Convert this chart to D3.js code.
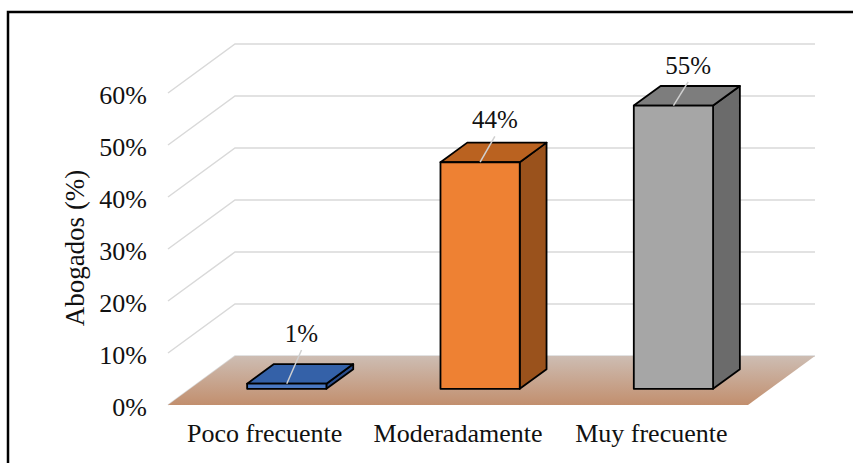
<!DOCTYPE html>
<html><head><meta charset="utf-8">
<script src="https://cdn.jsdelivr.net/npm/d3@7"></script>
<style>
html,body{margin:0;padding:0;background:#fff;}
svg text{font-family:'Liberation Serif','Times New Roman','Noto Serif','Nimbus Roman','Nimbus Roman No9 L','FreeSerif','DejaVu Serif',Times,serif !important;}
</style></head>
<body><svg id="c" width="853" height="463"></svg>
<script>
const categories = ["Poco frecuente", "Moderadamente", "Muy frecuente"];
const values = [1, 44, 55];
const valueLabels = ["1%", "44%", "55%"];
const tickValues = [0, 10, 20, 30, 40, 50, 60];
const frontColors = ["#4a78c2", "#ee8133", "#a6a6a6"];
const topColors = ["#3461a8", "#ba6220", "#7d7d7d"];
const sideColors = ["#2a4d8c", "#9a521c", "#6b6b6b"];

const svg = d3.select("#c");
const DX = 67, DY = 49;          // oblique depth offset
const D0 = 0.33, D1 = 0.73;      // bar depth span
const DL = 0.55;                 // label depth

const x = d3.scaleBand().domain(categories).range([168, 748]).padding(0);
const yGrid = d3.scaleLinear().domain([0, 60]).range([405, 93]);
const yBar = d3.scaleLinear().domain([0, 60]).range([405, 96]);
const yLabel = d3.scaleLinear().domain([0, 60]).range([338, 40]);
const P = (xf, yf, d) => [xf + d * DX, yf - d * DY];

// frame
svg.append("rect").attr("x", 8).attr("y", 12).attr("width", 900).attr("height", 500)
  .attr("fill", "none").attr("stroke", "#000").attr("stroke-width", 2.5);

// floor gradient
const defs = svg.append("defs");
const g = defs.append("linearGradient").attr("id", "floor").attr("x1", 0).attr("y1", 0).attr("x2", 0).attr("y2", 1);
g.append("stop").attr("offset", "0%").attr("stop-color", "#cdbdb3");
g.append("stop").attr("offset", "100%").attr("stop-color", "#c28f6e");

// gridlines: left wall diagonal + back wall
const [x0, x1] = x.range();
const grid = svg.append("g").attr("stroke", "#d9d9d9").attr("stroke-width", 1.5).attr("fill", "none");
tickValues.forEach(v => {
  const a = P(x0, yGrid(v), 0), b = P(x0, yGrid(v), 1), c = P(x1, yGrid(v), 1);
  grid.append("polyline").attr("points", [a, b, c].map(p => p.join(",")).join(" "));
});

// floor
const fl = [P(x0, yGrid(0), 0), P(x0, yGrid(0), 1), P(x1, yGrid(0), 1), P(x1, yGrid(0), 0)];
svg.append("polygon").attr("points", fl.map(p => p.join(",")).join(" ")).attr("fill", "url(#floor)");

// bars
const bw = x.bandwidth() * 0.41;
const bars = svg.append("g").attr("stroke", "#000").attr("stroke-width", 1.8).attr("stroke-linejoin", "round");
categories.forEach((cat, i) => {
  const cx = x(cat) + x.bandwidth() / 2;
  const xl = cx - bw / 2, xr = cx + bw / 2;
  const yb = yBar(0), yt = yBar(values[i]);
  const poly = pts => pts.map(p => p.join(",")).join(" ");
  bars.append("polygon").attr("fill", sideColors[i])
    .attr("points", poly([P(xr, yb, D0), P(xr, yb, D1), P(xr, yt, D1), P(xr, yt, D0)]));
  bars.append("polygon").attr("fill", topColors[i])
    .attr("points", poly([P(xl, yt, D0), P(xr, yt, D0), P(xr, yt, D1), P(xl, yt, D1)]));
  bars.append("polygon").attr("fill", frontColors[i])
    .attr("points", poly([P(xl, yb, D0), P(xr, yb, D0), P(xr, yt, D0), P(xl, yt, D0)]));
});

// data labels with leader lines
categories.forEach((cat, i) => {
  const cx = x(cat) + x.bandwidth() / 2;
  const lx = cx + DL * DX, ly = yLabel(values[i]);
  const ft = P(cx, yBar(values[i]), D0);
  svg.append("line").attr("x1", lx).attr("y1", ly + 17).attr("x2", ft[0]).attr("y2", ft[1])
    .attr("stroke", "#d0d0d0").attr("stroke-width", 1.5);
  svg.append("text").attr("x", lx).attr("y", ly).attr("dy", "0.35em")
    .attr("text-anchor", "middle").attr("font-size", 25).attr("fill", "#111").text(valueLabels[i]);
});

// y axis
const yAxis = svg.append("g").attr("transform", "translate(147,2)")
  .call(d3.axisLeft(yGrid).tickValues(tickValues).tickFormat(d => d + "%").tickSize(0).tickPadding(0));
yAxis.select(".domain").remove();
yAxis.attr("font-family", null);
yAxis.selectAll("text").attr("font-size", 26).attr("fill", "#111");

// x axis
const xAxis = svg.append("g").attr("transform", "translate(0,424)")
  .call(d3.axisBottom(x).tickSize(0).tickPadding(0));
xAxis.select(".domain").remove();
xAxis.attr("font-family", null);
xAxis.selectAll("text").attr("font-size", 26).attr("fill", "#111");

// y title
svg.append("text").attr("transform", "translate(84,248) rotate(-90)")
  .attr("text-anchor", "middle").attr("font-size", 27).attr("fill", "#111")
  .text("Abogados (%)");
</script></body></html>
